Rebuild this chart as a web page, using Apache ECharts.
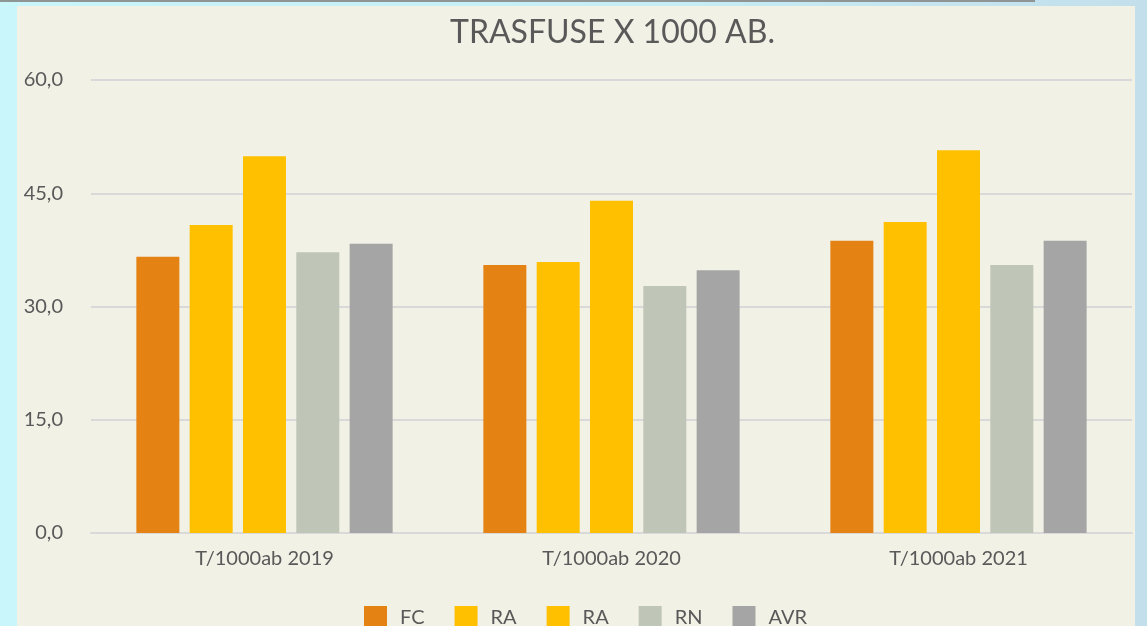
<!DOCTYPE html>
<html><head><meta charset="utf-8">
<script src="https://cdn.jsdelivr.net/npm/echarts@6/dist/echarts.min.js"></script>
<style>
html,body{margin:0;padding:0;width:1147px;height:626px;overflow:hidden;background:linear-gradient(to right,#c8f6fa 0%,#c6ecf4 60%,#c3dfeb 100%);}
#topline{position:absolute;left:0;top:0;width:1035px;height:2px;background:#8f9495;}
#panel{position:absolute;left:17px;top:6px;width:1118px;height:620px;background:#f2f1e6;}
#chart{position:absolute;left:0;top:0;width:1147px;height:626px;}
</style></head>
<body>
<div id="topline"></div>
<div id="panel"></div>
<div id="chart"></div>
<script>
const categories = ['T/1000ab 2019', 'T/1000ab 2020', 'T/1000ab 2021'];
const seriesNames = ['FC', 'RA', 'RA ', 'RN', 'AVR'];
const fcValues  = [36.6, 35.5, 38.7];
const ra1Values = [40.8, 35.9, 41.2];
const ra2Values = [49.9, 44.0, 50.7];
const rnValues  = [37.2, 32.7, 35.5];
const avrValues = [38.3, 34.8, 38.7];
const yTicks = {min: 0, max: 60, interval: 15};
const colors = ['#e48213', '#ffc000', '#ffc000', '#bfc5b7', '#a5a5a5'];
const allValues = [fcValues, ra1Values, ra2Values, rnValues, avrValues];

const font = 'Lato, "Open Sans", sans-serif';
const chart = echarts.init(document.getElementById('chart'), null, {renderer: 'canvas'});
chart.setOption({
  backgroundColor: 'transparent',
  animation: false,
  textStyle: {fontFamily: font},
  title: {
    text: 'TRASFUSE X 1000 AB.',
    left: 445, top: 12,
    textStyle: {fontSize: 32, fontWeight: 'normal', color: '#595959', fontFamily: font}
  },
  grid: {left: 91, right: 15, top: 80, bottom: 93, containLabel: false},
  legend: {
    left: 359, top: 601,
    itemWidth: 23, itemHeight: 23, itemGap: 30,
    icon: 'rect',
    formatter: n => n.trim(),
    textStyle: {fontSize: 20, color: '#595959', padding: [0, 0, 0, 8], fontFamily: font},
    data: seriesNames
  },
  xAxis: {
    type: 'category',
    data: categories,
    axisLine: {lineStyle: {color: '#d9d9d9', width: 2}},
    axisTick: {show: false},
    axisLabel: {fontSize: 20, color: '#595959', margin: 16, fontFamily: font}
  },
  yAxis: {
    type: 'value',
    min: yTicks.min, max: yTicks.max, interval: yTicks.interval,
    axisLine: {show: false},
    axisTick: {show: false},
    splitLine: {lineStyle: {color: '#d9d9d9', width: 2}},
    axisLabel: {fontSize: 20, color: '#595959', margin: 28, fontFamily: font,
      formatter: v => v.toFixed(1).replace('.', ',')}
  },
  series: seriesNames.map((name, i) => ({
    name: name,
    type: 'bar',
    data: allValues[i],
    barWidth: 43,
    barGap: '24%',
    itemStyle: {color: colors[i]}
  }))
});
</script>
</body></html>
